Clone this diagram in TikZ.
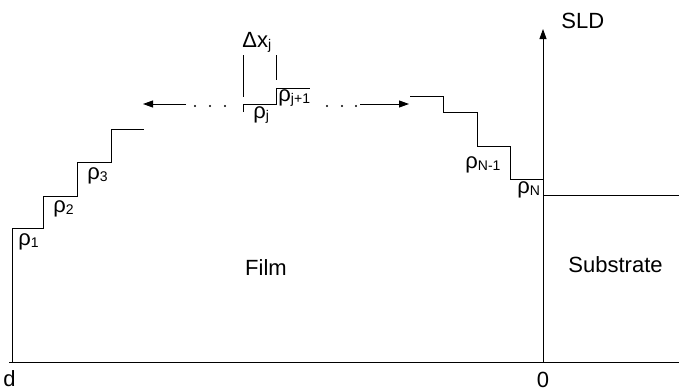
\documentclass[tikz,border=0pt]{standalone}
\usepackage{fontspec}
\setmainfont{Liberation Sans}
\usetikzlibrary{arrows.meta}

\newcommand{\lowsub}[1]{\raisebox{-0.25ex}{\fontsize{14}{14}\selectfont #1}}

\begin{document}
\begin{tikzpicture}[
    x=1pt,
    y=-1pt,
    >={Triangle[length=10pt,width=7pt]},
    line width=0.9pt,
    lbl/.style={font=\fontsize{22}{26}\selectfont, inner sep=0pt, anchor=base west},
    dot/.style={circle, fill, inner sep=0pt, minimum size=2.4pt}
  ]
  \useasboundingbox (0,0) rectangle (679,391);

  % 坐标轴
  \coordinate (dleft) at (9,362);
  \coordinate (o)     at (543,362);
  \coordinate (xend)  at (679,362);
  \coordinate (top)   at (543,29);
  \draw (dleft) -- (xend);
  \draw[->] (o) -- (top);
  \node[lbl] (sld) at (561,28) {SLD};
  \node[lbl, anchor=base] (zero) at (543,387) {0};
  \node[lbl, anchor=base east] (d) at (16,386) {d};

  % 左边台阶
  \draw (12,362) -- (12,228) -- (43,228) -- (43,196) -- (77,196)
        -- (77,162) -- (111,162) -- (111,129) -- (144,129);
  \node[lbl] (r1) at (18,245)  {ρ\lowsub{1}};
  \node[lbl] (r2) at (53,212)  {ρ\lowsub{2}};
  \node[lbl] (r3) at (87,179)  {ρ\lowsub{3}};

  % 箭头和省略号
  \coordinate (la) at (186,104);
  \coordinate (lt) at (143,104);
  \coordinate (ra) at (360,104);
  \coordinate (rt) at (409,104);
  \draw[->] (la) -- (lt);
  \draw[->] (ra) -- (rt);
  \foreach \x in {195,210,225,327,342,356}
    \node[dot] at (\x,106) {};

  % 中间第j层
  \draw (243,112) -- (243,104) -- (276,104) -- (276,88) -- (310,88);
  \draw (243,55) -- (243,97);
  \draw (276,55) -- (276,80);
  \node[lbl] (dx) at (242,47)  {Δx\lowsub{j}};
  \node[lbl] (rj) at (253,118) {ρ\lowsub{j}};
  \node[lbl] (rj1) at (278,101) {ρ\lowsub{j+1}};

  % 右边台阶
  \draw (410,96) -- (443,96) -- (443,112) -- (477,112) -- (477,146)
        -- (510,146) -- (510,179) -- (543,179);
  \draw (543,195) -- (679,195);
  \node[lbl] (rn1) at (465,168) {ρ\lowsub{N-1}};
  \node[lbl] (rn)  at (517,193) {ρ\lowsub{N}};

  % 区域名
  \node[lbl, anchor=base] (film) at (266,275) {Film};
  \node[lbl] (sub) at (568,272) {Substrate};

\end{tikzpicture}
\end{document}
